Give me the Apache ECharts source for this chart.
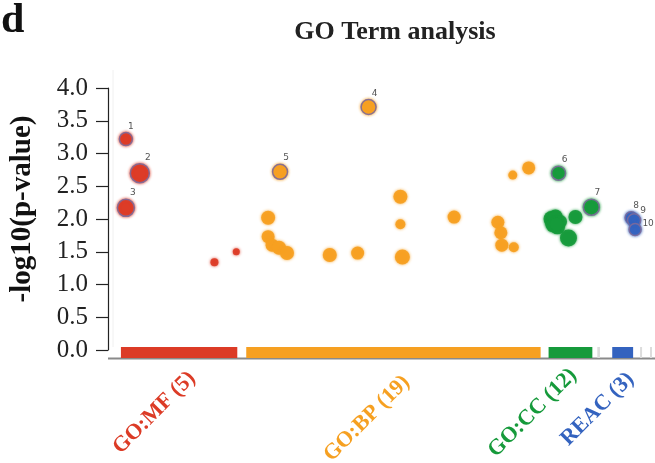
<!DOCTYPE html>
<html>
<head>
<meta charset="utf-8">
<script src="https://cdn.jsdelivr.net/npm/echarts@6/dist/echarts.min.js"></script>
<style>
  html, body { margin: 0; padding: 0; background: #fff; }
  #chart { width: 655px; height: 463px; }
</style>
</head>
<body>
<div id="chart"></div>
<script>
// Data sources along the x axis (term positions) and their colours
const sourceNames  = ['GO:MF', 'GO:BP', 'GO:CC', 'REAC'];
const sourceCounts = [5, 19, 12, 3];
const sourceColors = ['#dc3b26', '#f6a021', '#169a3b', '#3463bf'];
const sourceStart  = [13, 139, 443, 507];
const sourceEnd    = [130, 435, 487, 528];
// empty source slots shown as light grey stubs
const emptyStart = [492, 535, 545];
const emptyEnd   = [500, 540, 550];

// Terms: position on the x axis, -log10(p-value), marker size, highlight label
const mfX    = [18, 32, 18, 107, 129];
const mfY    = [3.22, 2.70, 2.17, 1.34, 1.50];
const mfSize = [13, 19, 17, 8, 7];
const mfLab  = ['1', '2', '3', '', ''];

const bpX    = [173, 262, 161, 161, 165, 172, 180, 223, 251, 294, 294, 296, 348, 392, 395, 396, 407, 408, 423];
const bpY    = [2.72, 3.71, 2.02, 1.73, 1.60, 1.56, 1.48, 1.45, 1.48, 2.34, 1.92, 1.42, 2.03, 1.95, 1.79, 1.60, 2.67, 1.57, 2.78];
const bpSize = [15, 15, 14, 13, 13, 14, 14, 14, 13, 14, 10, 15, 13, 13, 13, 13, 9, 10, 13];
const bpLab  = ['5', '4', '', '', '', '', '', '', '', '', '', '', '', '', '', '', '', '', ''];

const ccX    = [453, 486, 446, 448, 452, 450, 470, 463, 447, 455, 449, 451];
const ccY    = [2.70, 2.18, 2.00, 1.94, 1.88, 2.04, 2.03, 1.71, 1.90, 1.96, 2.02, 1.92];
const ccSize = [14, 16, 16, 17, 15, 14, 14, 17, 13, 13, 13, 13];
const ccLab  = ['6', '7', '', '', '', '', '', '', '', '', '', ''];

const reX    = [526, 529, 530];
const reY    = [2.02, 1.98, 1.84];
const reSize = [12, 13, 12];
const reLab  = ['8', '9', '10'];

// Y axis ticks
const yMin = 0, yMax = 4, yStep = 0.5;

// placement of the rotated source labels relative to each bar's centre
const labelDx = [13, 13, 3, 8];
const labelDy = [25, 29, 22, 26];

const groups = [
  { x: mfX, y: mfY, s: mfSize, l: mfLab },
  { x: bpX, y: bpY, s: bpSize, l: bpLab },
  { x: ccX, y: ccY, s: ccSize, l: ccLab },
  { x: reX, y: reY, s: reSize, l: reLab }
];

const serif = '"Liberation Serif", "DejaVu Serif", serif';

const scatterSeries = groups.map((g, gi) => ({
  type: 'scatter',
  name: sourceNames[gi],
  z: 3,
  data: g.x.map((xv, i) => {
    const item = {
      value: [xv, g.y[i]],
      symbolSize: g.s[i],
      itemStyle: {
        color: sourceColors[gi],
        opacity: 0.92,
        shadowBlur: 3,
        shadowColor: sourceColors[gi]
      }
    };
    if (g.l[i]) {
      item.itemStyle.borderColor = '#7d6a9a';
      item.itemStyle.borderWidth = 1.5;
      item.label = {
        show: true,
        formatter: g.l[i],
        position: 'top',
        offset: [Math.round(g.s[i] / 2.5) + (gi === 3 ? i * 4 : 0), 4 + (gi === 3 ? i * 3 : 0)],
        fontSize: 9,
        color: '#444',
        fontFamily: '"DejaVu Sans", sans-serif',
        textBorderColor: '#fff',
        textBorderWidth: 1
      };
    }
    return item;
  })
}));

// Source bars under the plot with their rotated labels
const barData = sourceNames.map((n, i) => [sourceStart[i], sourceEnd[i], i]);
const barSeries = {
  type: 'custom',
  z: 2,
  clip: false,
  silent: true,
  data: barData,
  renderItem: function (params, api) {
    const i = api.value(2);
    const p0 = api.coord([api.value(0), 0]);
    const p1 = api.coord([api.value(1), 0]);
    const labelText = sourceNames[i] + ' (' + sourceCounts[i] + ')';
    const cx = (p0[0] + p1[0]) / 2;
    return {
      type: 'group',
      children: [
        {
          type: 'rect',
          shape: { x: p0[0], y: p0[1] - 3, width: p1[0] - p0[0], height: 11 },
          style: { fill: sourceColors[i] }
        },
        {
          type: 'text',
          x: cx + labelDx[i],
          y: p0[1] + labelDy[i],
          rotation: Math.PI / 4,
          style: {
            text: labelText,
            fill: sourceColors[i],
            font: 'bold 22px ' + serif,
            align: 'right',
            verticalAlign: 'middle'
          }
        }
      ]
    };
  }
};

const emptySeries = {
  type: 'custom',
  z: 1,
  clip: false,
  silent: true,
  data: emptyStart.map((s, i) => [s, emptyEnd[i]]),
  renderItem: function (params, api) {
    const p0 = api.coord([api.value(0), 0]);
    const p1 = api.coord([api.value(1), 0]);
    return {
      type: 'rect',
      shape: { x: p0[0], y: p0[1] - 3, width: Math.max(2, (p1[0] - p0[0]) / 3), height: 11 },
      style: { fill: '#dcdcdc' }
    };
  }
};

// grey baseline under the source bars and the faint plot frame edge
const frameSeries = {
  type: 'custom',
  z: 1,
  clip: false,
  silent: true,
  data: [[0, 550]],
  renderItem: function (params, api) {
    const p0 = api.coord([api.value(0), 0]);
    const p1 = api.coord([api.value(1), 0]);
    const top = api.coord([0, yMax]);
    return {
      type: 'group',
      children: [
        {
          type: 'line',
          shape: { x1: p0[0], y1: p0[1] + 8.5, x2: p1[0], y2: p1[1] + 8.5 },
          style: { stroke: '#8a8a8a', lineWidth: 2 }
        },
        {
          type: 'line',
          shape: { x1: p0[0] + 5, y1: top[1] - 18, x2: p0[0] + 5, y2: p0[1] - 3 },
          style: { stroke: '#f0f0f0', lineWidth: 1 }
        }
      ]
    };
  }
};

const chart = echarts.init(document.getElementById('chart'), null, { renderer: 'canvas' });
chart.setOption({
  backgroundColor: '#fff',
  animation: false,
  title: [
    {
      text: 'GO Term analysis',
      left: 390,
      top: 14,
      textAlign: 'center',
      textStyle: { fontFamily: serif, fontWeight: 'bold', fontSize: 26, color: '#222' }
    },
    {
      text: 'd',
      left: -4,
      top: -5,
      textStyle: { fontFamily: serif, fontWeight: 'bold', fontSize: 42, color: '#111' }
    }
  ],
  grid: { left: 105, right: 0, top: 88, bottom: 113 },
  xAxis: {
    type: 'value',
    min: 0,
    max: 550,
    show: false
  },
  yAxis: {
    type: 'value',
    min: yMin,
    max: yMax,
    interval: yStep,
    offset: 7,
    name: '-log10(p-value)',
    nameLocation: 'middle',
    nameGap: 64,
    nameTextStyle: {
      fontFamily: serif,
      fontWeight: 'bold',
      fontSize: 29,
      color: '#111',
      padding: [0, 0, 0, 20]
    },
    axisLine: { show: true, lineStyle: { color: '#222', width: 1.2 } },
    axisTick: { show: true, length: 12, lineStyle: { color: '#222', width: 1.2 } },
    axisLabel: {
      fontFamily: serif,
      fontSize: 25,
      color: '#222',
      margin: 13,
      formatter: v => v.toFixed(1)
    },
    splitLine: { show: false }
  },
  series: [frameSeries, emptySeries, barSeries].concat(scatterSeries)
});
</script>
</body>
</html>
